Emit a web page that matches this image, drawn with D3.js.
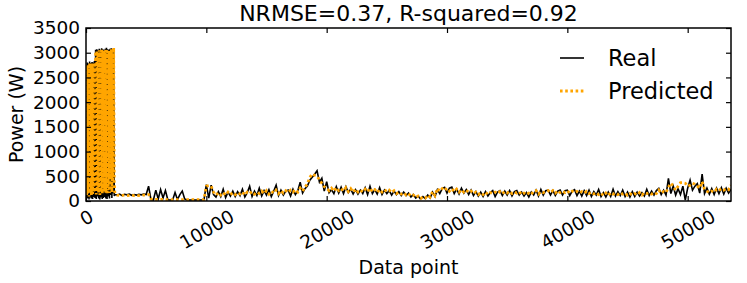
<!DOCTYPE html>
<html>
<head>
<meta charset="utf-8">
<script src="https://cdn.jsdelivr.net/npm/d3@7"></script>
<style>
  body { margin: 0; background: #fff; }
  svg { display: block; font-family: "DejaVu Sans", sans-serif; }
</style>
</head>
<body>
<svg width="747" height="283"></svg>
<script>
// data (real vs predicted power)
const titleText = "NRMSE=0.37, R-squared=0.92";
const seriesNames = ["Real", "Predicted"];
const xTicks = [0, 10000, 20000, 30000, 40000, 50000];
const yTicks = [0, 500, 1000, 1500, 2000, 2500, 3000, 3500];
const xMax = 53600;

// first block, one value every 50 points (0 .. 2350)
const earlyStep = 50;
const realEarly = [2750, 40, 2800, 60, 2780, 30, 2820, 70, 2790, 50, 2810, 40, 2800, 80, 2830,
  60, 3060, 40, 3070, 90, 3050, 50, 3080, 30, 3060, 70, 3090, 40, 3070, 60, 3050, 80, 3080, 50, 3100,
  40, 3070, 90, 3060, 50, 3080, 120, 3090, 60, 3070, 150, 3080, 100];
const predEarly = [2700, 120, 2760, 150, 2740, 90, 2790, 160, 2750, 110, 2780, 140, 2770, 170, 2800,
  180, 3020, 130, 3040, 200, 3010, 150, 3050, 120, 3030, 190, 3060, 140, 3040, 170, 3020, 210, 3050, 160, 3080,
  130, 3040, 220, 3030, 160, 3060, 450, 3070, 180, 3040, 420, 3100, 380];

// rest, one value every 200 points (2400 .. 53600)
const mainStart = 2400;
const mainStep = 200;
const realMain = [
  130, 120, 140, 110, 135, 125, 140, 115, 130, 120,
  135, 125, 140, 130, 300, 25, 20, 220, 40, 230,
  60, 210, 25, 20, 20, 170, 30, 130, 200, 40,
  20, 20, 20, 20, 20, 20, 20, 20, 330, 60,
  320, 130, 80, 190, 90, 240, 70, 180, 100, 200,
  90, 190, 110, 240, 80, 170, 300, 90, 200, 110,
  260, 100, 210, 120, 230, 90, 200, 320, 110, 220,
  120, 200, 220, 100, 240, 130, 210, 380, 160, 250,
  300, 420, 480, 540, 610, 380, 460, 200, 390, 170,
  230, 150, 290, 160, 280, 150, 290, 170, 240, 140,
  230, 140, 220, 150, 270, 130, 300, 150, 230, 140,
  270, 130, 220, 150, 210, 120, 200, 130, 190, 110,
  180, 110, 160, 80, 130, 60, 100, 40, 90, 50,
  120, 60, 180, 90, 230, 150, 250, 275, 160, 260,
  280, 150, 240, 140, 260, 160, 230, 130, 220, 110,
  190, 100, 180, 90, 190, 100, 170, 210, 90, 180,
  210, 110, 200, 120, 210, 100, 190, 210, 120, 180,
  100, 170, 80, 180, 120, 220, 100, 235, 120, 210,
  220, 120, 210, 110, 200, 220, 120, 210, 220, 110,
  200, 230, 110, 200, 100, 210, 110, 220, 90, 190,
  120, 235, 90, 170, 80, 180, 90, 240, 100, 190,
  110, 220, 90, 180, 80, 190, 90, 180, 100, 170,
  100, 235, 110, 200, 120, 210, 255, 130, 220, 120,
  460, 150, 300, 120, 250, 130, 300, 20, 260, 425,
  220, 300, 350, 160, 545, 150, 260, 140, 250, 130,
  260, 150, 270, 140, 260, 160, 240];
const predMain = [
  150, 120, 110, 115, 120, 110, 115, 120, 110, 115,
  110, 115, 120, 115, 130, 40, 30, 30, 30, 30,
  30, 30, 25, 25, 25, 25, 25, 25, 25, 25,
  25, 25, 25, 25, 25, 25, 25, 25, 300, 310,
  300, 180, 120, 170, 120, 170, 120, 180, 130, 170,
  130, 170, 140, 180, 120, 180, 150, 190, 140, 180,
  150, 200, 150, 210, 140, 200, 160, 220, 150, 210,
  160, 210, 170, 220, 180, 230, 180, 260, 200, 280,
  350, 480, 545, 520, 500, 430, 360, 290, 260, 210,
  260, 200, 270, 210, 250, 200, 270, 190, 250, 180,
  240, 180, 220, 180, 240, 190, 260, 190, 230, 170,
  230, 180, 230, 190, 220, 170, 210, 150, 180, 140,
  170, 120, 150, 100, 120, 70, 100, 50, 80, 60,
  120, 80, 190, 110, 255, 200, 250, 210, 260, 200,
  250, 190, 240, 180, 230, 180, 220, 170, 200, 150,
  180, 130, 170, 130, 180, 130, 170, 150, 180, 150,
  190, 150, 190, 160, 200, 150, 180, 160, 190, 130,
  160, 125, 160, 130, 200, 210, 140, 190, 170, 200,
  210, 170, 210, 160, 210, 170, 200, 170, 205, 160,
  200, 170, 195, 160, 190, 160, 195, 150, 180, 145,
  170, 130, 160, 110, 160, 110, 170, 140, 160, 130,
  170, 140, 160, 115, 150, 120, 150, 120, 170, 120,
  170, 150, 170, 140, 170, 150, 220, 160, 190, 170,
  280, 360, 300, 220, 300, 370, 370, 360, 300, 320,
  360, 340, 300, 260, 390, 240, 200, 170, 200, 175,
  240, 215, 250, 220, 250, 230, 320];

const toPts = (early, main) =>
  early.map((v, i) => ({x: i * earlyStep, v: v}))
    .concat(main.map((v, i) => ({x: mainStart + i * mainStep, v: v})));
const realPts = toPts(realEarly, realMain);
const predPts = toPts(predEarly, predMain);

const plotL = 86, plotR = 731, plotT = 28, plotB = 201;
const tickFont = 18.5;

let svg = d3.select("svg");

let x = d3.scaleLinear().domain([0, xMax]).range([plotL, plotR]);
let y = d3.scaleLinear().domain([0, 3500]).range([plotB, plotT]);

svg.append("defs").append("clipPath").attr("id", "plotclip")
  .append("rect")
  .attr("x", plotL).attr("y", plotT)
  .attr("width", plotR - plotL).attr("height", plotB - plotT);

let line = d3.line().x(d => x(d.x)).y(d => y(d.v));

let plot = svg.append("g").attr("clip-path", "url(#plotclip)");
plot.append("path")
  .datum(realPts)
  .attr("d", line)
  .attr("fill", "none")
  .attr("stroke", "black")
  .attr("stroke-width", 1.6);
plot.append("path")
  .datum(predPts)
  .attr("d", line)
  .attr("fill", "none")
  .attr("stroke", "#FFA500")
  .attr("stroke-width", 2.8)
  .attr("stroke-dasharray", "2.6,2.6");

// axes, ticks pointing inward on all four sides
let styleAxis = g => {
  g.select(".domain").remove();
  g.selectAll(".tick line").attr("stroke", "black").attr("stroke-width", 1.2);
  g.selectAll("text").attr("fill", "black").attr("font-size", tickFont)
    .attr("font-family", "DejaVu Sans");
};

let xb = svg.append("g")
  .attr("transform", `translate(0, ${plotB})`)
  .call(d3.axisBottom(x).tickValues(xTicks).tickSizeInner(-5).tickSizeOuter(0).tickFormat(d3.format("d")))
  .call(styleAxis);
xb.selectAll(".tick text").each(function() {
  let w = this.getComputedTextLength();
  let h = w * 0.5 + tickFont * 1.1 * 0.866;
  d3.select(this)
    .attr("x", 0).attr("y", 0).attr("dy", null)
    .attr("text-anchor", "middle")
    .attr("dominant-baseline", "central")
    .attr("transform", `translate(0, ${5 + h / 2}) rotate(-30)`);
});

svg.append("g")
  .attr("transform", `translate(0, ${plotT})`)
  .call(d3.axisTop(x).tickValues(xTicks).tickSizeInner(-5).tickSizeOuter(0).tickFormat(""))
  .call(styleAxis);

let yl = svg.append("g")
  .attr("transform", `translate(${plotL}, 0)`)
  .call(d3.axisLeft(y).tickValues(yTicks).tickSizeInner(-5).tickSizeOuter(0).tickFormat(d3.format("d")))
  .call(styleAxis);
yl.selectAll(".tick text").attr("x", -6);

svg.append("g")
  .attr("transform", `translate(${plotR}, 0)`)
  .call(d3.axisRight(y).tickValues(yTicks).tickSizeInner(-5).tickSizeOuter(0).tickFormat(""))
  .call(styleAxis);

svg.append("rect")
  .attr("x", plotL).attr("y", plotT)
  .attr("width", plotR - plotL).attr("height", plotB - plotT)
  .attr("fill", "none")
  .attr("stroke", "black")
  .attr("stroke-width", 1.5);

// title and axis labels
svg.append("text")
  .attr("x", (plotL + plotR) / 2)
  .attr("y", 21)
  .attr("text-anchor", "middle")
  .attr("font-size", 22)
  .attr("fill", "black")
  .text(titleText);

svg.append("text")
  .attr("x", (plotL + plotR) / 2)
  .attr("y", 274)
  .attr("text-anchor", "middle")
  .attr("font-size", 19)
  .attr("fill", "black")
  .text("Data point");

svg.append("text")
  .attr("transform", `translate(22.5, ${(plotT + plotB) / 2}) rotate(-90)`)
  .attr("text-anchor", "middle")
  .attr("font-size", 19)
  .attr("fill", "black")
  .text("Power (W)");

// legend (no frame)
let legend = svg.append("g");
let legendRows = [
  {name: seriesNames[0], color: "black", width: 1.6, dash: null, y: 58},
  {name: seriesNames[1], color: "#FFA500", width: 2.8, dash: "2.6,2.6", y: 91}
];
legendRows.forEach(r => {
  legend.append("line")
    .attr("x1", 560).attr("x2", 584)
    .attr("y1", r.y).attr("y2", r.y)
    .attr("stroke", r.color)
    .attr("stroke-width", r.width)
    .attr("stroke-dasharray", r.dash);
  legend.append("text")
    .attr("x", 608)
    .attr("y", r.y + 8)
    .attr("font-size", 22.5)
    .attr("fill", "black")
    .text(r.name);
});
</script>
</body>
</html>
